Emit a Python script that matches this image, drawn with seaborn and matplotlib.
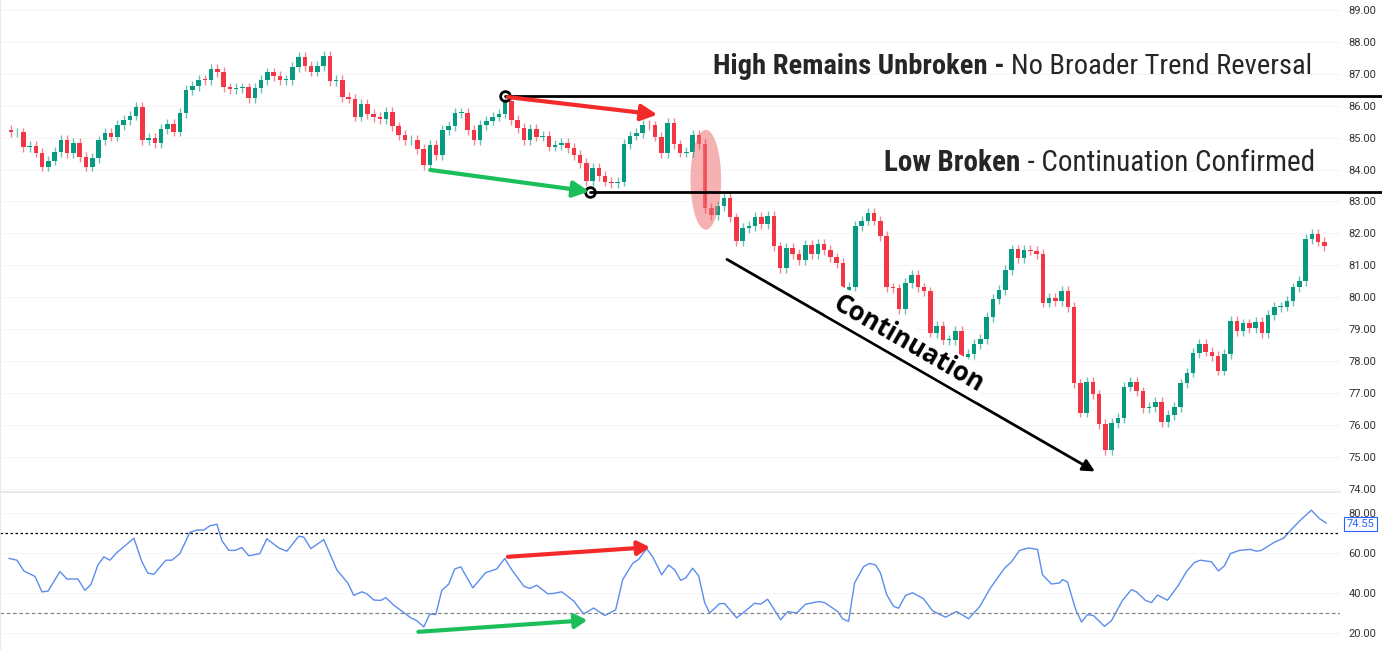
import numpy as np
import pandas as pd
import seaborn as sns
from matplotlib import pyplot as plt
from matplotlib.patches import Ellipse

# closing prices, one per candle
closes = [85.16, 85.16, 84.71, 84.74, 84.53, 84.09, 84.28, 84.55, 84.93, 84.52,
          84.84, 84.40, 84.09, 84.37, 84.91, 85.15, 85.03, 85.40, 85.55, 85.69,
          85.96, 84.91, 85.00, 84.84, 85.27, 85.43, 85.19, 85.77, 86.49, 86.62,
          86.81, 86.79, 87.15, 87.06, 86.57, 86.53, 86.55, 86.57, 86.23, 86.55,
          86.81, 87.04, 86.93, 86.81, 86.81, 87.22, 87.54, 87.25, 87.07, 87.25,
          87.56, 86.76, 86.81, 86.28, 86.22, 85.66, 86.06, 85.74, 85.64, 85.58,
          85.80, 85.35, 85.09, 84.91, 84.93, 84.65, 84.15, 84.77, 84.46, 85.24,
          85.37, 85.77, 85.78, 85.24, 84.93, 85.40, 85.53, 85.66, 85.75, 86.16,
          85.55, 85.30, 84.93, 85.28, 85.03, 85.06, 84.72, 84.77, 84.84, 84.68,
          84.46, 84.21, 83.64, 84.05, 83.80, 83.62, 83.57, 83.62, 84.80, 85.06,
          85.14, 85.40, 85.38, 85.03, 84.52, 85.47, 84.79, 84.53, 84.55, 85.09,
          84.80, 82.79, 82.58, 82.86, 83.10, 82.50, 81.77, 82.16, 82.24, 82.51,
          82.30, 82.55, 81.59, 80.91, 81.54, 81.35, 81.17, 81.64, 81.36, 81.67,
          81.48, 81.25, 81.08, 80.23, 80.33, 82.24, 82.40, 82.63, 82.40, 81.92,
          80.31, 80.28, 79.62, 80.45, 80.70, 80.31, 80.18, 78.87, 79.10, 78.66,
          78.66, 78.95, 78.12, 78.23, 78.54, 78.70, 79.39, 79.95, 80.23, 80.86,
          81.50, 81.22, 81.48, 81.46, 81.35, 79.83, 79.97, 79.89, 80.21, 79.69,
          77.30, 76.39, 77.36, 76.96, 76.03, 75.20, 76.07, 76.21, 77.20, 77.36,
          77.05, 76.52, 76.56, 76.73, 76.10, 76.32, 76.56, 77.30, 77.64, 78.25,
          78.54, 78.30, 78.16, 77.70, 78.23, 79.27, 78.93, 79.18, 79.03, 79.22,
          78.87, 79.44, 79.69, 79.71, 79.89, 80.31, 80.51, 81.82, 81.98, 81.74,
          81.59]
first_open = 85.25

# RSI line: screen x of each traced vertex and its value
rsi_px = [9, 17, 24, 35, 42, 48, 60, 67, 78, 85, 91, 98, 104, 110, 117, 134, 142, 148,
          154, 166, 172, 180, 190, 197, 204, 210, 217, 222, 229, 235, 242, 249, 260, 267,
          279, 287, 299, 304, 311, 324, 337, 348, 354, 362, 367, 374, 381, 386, 394, 411,
          417, 424, 430, 436, 442, 449, 455, 461, 473, 486, 497, 505, 512, 517, 524, 530,
          537, 548, 554, 562, 574, 584, 594, 605, 616, 623, 633, 639, 647, 653, 662, 669,
          675, 681, 686, 693, 699, 705, 710, 720, 725, 737, 746, 755, 761, 768, 781, 788,
          797, 806, 819, 825, 838, 843, 849, 855, 864, 870, 876, 881, 887, 894, 899, 906,
          913, 924, 933, 946, 957, 969, 980, 991, 1005, 1012, 1020, 1029, 1038, 1043, 1052,
          1060, 1063, 1068, 1076, 1082, 1088, 1094, 1105, 1112, 1123, 1132, 1137, 1146,
          1152, 1158, 1168, 1179, 1187, 1195, 1201, 1212, 1219, 1225, 1231, 1240, 1251,
          1257, 1262, 1275, 1284, 1293, 1302, 1312, 1320, 1327]
rsi_vals = [57.3, 56.4, 51.0, 48.3, 40.6, 40.9, 50.7, 47.0, 47.0, 41.3, 44.2, 54.0, 58.1,
            56.4, 60.2, 67.4, 55.6, 49.9, 49.4, 56.4, 56.4, 59.7, 70.3, 71.5, 71.5, 73.6,
            74.4, 66.2, 61.3, 61.3, 62.7, 58.6, 59.7, 67.1, 62.5, 60.9, 68.4, 67.9, 62.2,
            66.7, 51.6, 45.0, 38.8, 40.6, 39.6, 36.5, 36.3, 37.7, 33.9, 27.6, 26.2, 23.0,
            29.5, 29.2, 41.3, 44.5, 52.0, 53.1, 42.6, 50.2, 52.0, 57.3, 51.6, 48.3, 43.4,
            42.3, 43.9, 39.6, 39.8, 40.6, 36.0, 29.5, 32.5, 28.7, 31.6, 46.7, 54.8, 56.8,
            62.2, 58.1, 49.1, 54.0, 51.6, 46.3, 47.5, 52.4, 48.6, 35.2, 30.0, 34.7, 34.7,
            27.6, 31.1, 34.9, 34.4, 36.9, 26.6, 30.7, 30.0, 34.4, 35.7, 35.2, 30.8, 27.1,
            25.8, 45.0, 53.2, 54.8, 54.0, 49.9, 39.3, 33.3, 32.4, 38.8, 40.1, 37.1, 31.1,
            27.9, 30.8, 27.1, 33.1, 42.6, 52.4, 55.6, 61.3, 62.5, 61.8, 49.1, 44.5, 45.0,
            46.7, 45.5, 32.0, 25.5, 29.2, 28.7, 23.3, 26.2, 36.3, 41.7, 40.6, 36.3, 35.2,
            39.0, 36.4, 43.9, 50.7, 55.3, 56.4, 55.6, 51.0, 53.6, 59.7, 61.3, 61.8, 60.9,
            61.3, 65.4, 67.4, 72.3, 76.9, 81.4, 77.2, 74.9]
rsi_last = 74.55

price_ticks = np.arange(74, 90, 1.0)
rsi_ticks = [20, 40, 60, 80]

GREEN = "#089981"
RED = "#f23645"

sns.set_theme(style="white")
plt.rcParams['font.family'] = ['Roboto', 'DejaVu Sans']

df = pd.DataFrame({"close": closes})
df["open"] = [first_open] + closes[:-1]
df["idx"] = np.arange(len(df))
up = df["close"] >= df["open"]
df["top"] = df[["open", "close"]].max(axis=1)
df["bot"] = df[["open", "close"]].min(axis=1)
df["color"] = np.where(up, GREEN, RED)

W, H = 1382, 650
fig = plt.figure(figsize=(W / 100, H / 100), dpi=100)
xlim = (-1.75, 212.5)
ax = fig.add_axes([0, 1 - 492 / H, 1340 / W, 492 / H])
ax2 = fig.add_axes([0, 0, 1340 / W, 157 / H])

# candles
ax.vlines(df["idx"], df["bot"] - 0.15, df["top"] + 0.15, colors=df["color"], lw=1, alpha=0.6)
ax.bar(df["idx"], (df["top"] - df["bot"]).clip(lower=0.03), bottom=df["bot"],
       width=0.72, color=df["color"], linewidth=0)
ax.set_xlim(*xlim)
ax.set_ylim(73.9, 89.31)

sns.lineplot(x=(np.array(rsi_px) - 11) / 6.257, y=rsi_vals, ax=ax2, color="#5b8def", lw=1)
ax2.axhline(70, color="black", ls=(0, (2, 2)), lw=0.9)
ax2.axhline(30, color="#888888", ls=(0, (3, 2)), lw=0.9)
ax2.set_xlim(*xlim)
ax2.set_ylim(11.5, 90)

for a, ticks in ((ax, price_ticks), (ax2, rsi_ticks)):
    a.yaxis.tick_right()
    a.set_yticks(ticks)
    a.set_yticklabels(["%.2f" % t for t in ticks], fontsize=8, color="#333333")
    a.tick_params(axis="y", length=0, pad=6)
    a.set_xticks([])
    for s in a.spines.values():
        s.set_visible(False)
    a.grid(True, color="#f5f5f5", lw=0.8)
ax.spines["bottom"].set_visible(True)
ax.spines["bottom"].set_color("#e6e6e6")
ax.spines["left"].set_visible(True)
ax.spines["left"].set_color("#e6e6e6")
ax2.spines["left"].set_visible(True)
ax2.spines["left"].set_color("#e6e6e6")

ax2.text(1.005, (rsi_last - 11.5) / 78.5, "%.2f" % rsi_last, transform=ax2.transAxes,
         fontsize=8, color="#2962ff", va="center",
         bbox=dict(boxstyle="square,pad=0.2", fc="white", ec="#2962ff", lw=0.8))

# annotations on the price panel
ax.plot([79, 240], [86.31, 86.31], color="black", lw=2, clip_on=False)
ax.plot([92.6, 240], [83.3, 83.3], color="black", lw=2, clip_on=False)
ax.plot([79], [86.31], "o", ms=7, mfc="none", mec="black", mew=2)
ax.plot([92.6], [83.3], "o", ms=7, mfc="none", mec="black", mew=2)
ax.annotate("", xy=(103.8, 85.71), xytext=(79, 86.28),
            arrowprops=dict(arrowstyle="-|>,head_length=0.8,head_width=0.4", color="#f42a2a", lw=3))
ax.annotate("", xy=(92.9, 83.3), xytext=(66.6, 84.0),
            arrowprops=dict(arrowstyle="-|>,head_length=0.8,head_width=0.4", color="#1bbf5a", lw=3))
ax.annotate("", xy=(173.7, 74.5), xytext=(114.1, 81.23),
            arrowprops=dict(arrowstyle="-|>,head_length=0.6,head_width=0.3", color="black", lw=2))
ax.text(143.5, 78.55, "Continuation", rotation=-30, ha="center", va="center", fontsize=18.5,
        fontweight="bold", color="black", family=["Open Sans", "DejaVu Sans"],
        bbox=dict(fc="white", ec="none", pad=2))
ax.add_patch(Ellipse((111.1, 83.68), 4.9, 3.13, color="#f08080", alpha=0.6, lw=0))

ax2.annotate("", xy=(102.6, 63), xytext=(79, 58),
             arrowprops=dict(arrowstyle="-|>,head_length=0.6,head_width=0.35", color="#f42a2a", lw=3))
ax2.annotate("", xy=(92.6, 26.5), xytext=(64.7, 20.5),
             arrowprops=dict(arrowstyle="-|>,head_length=0.6,head_width=0.35", color="#1bbf5a", lw=3))

# headline texts: bold part then regular part, right aligned
fig.canvas.draw()
rend = fig.canvas.get_renderer()
for bold, regular, xr, yc, fs in (("High Remains Unbroken - ", "No Broader Trend Reversal", 1312, 66, 20.5),
                                  ("Low Broken", " - Continuation Confirmed", 1315, 163, 21)):
    t = fig.text(xr / W, 1 - yc / H, regular, ha="right", va="center", fontsize=fs,
                 family=["Roboto Condensed", "Roboto", "DejaVu Sans"], stretch="condensed")
    bb = t.get_window_extent(rend)
    fig.text(bb.x0 / W, 1 - yc / H, bold, ha="right", va="center", fontsize=fs,
             fontweight="bold", family=["Roboto Condensed", "Roboto", "DejaVu Sans"])

fig.savefig("out.png", dpi=100)
